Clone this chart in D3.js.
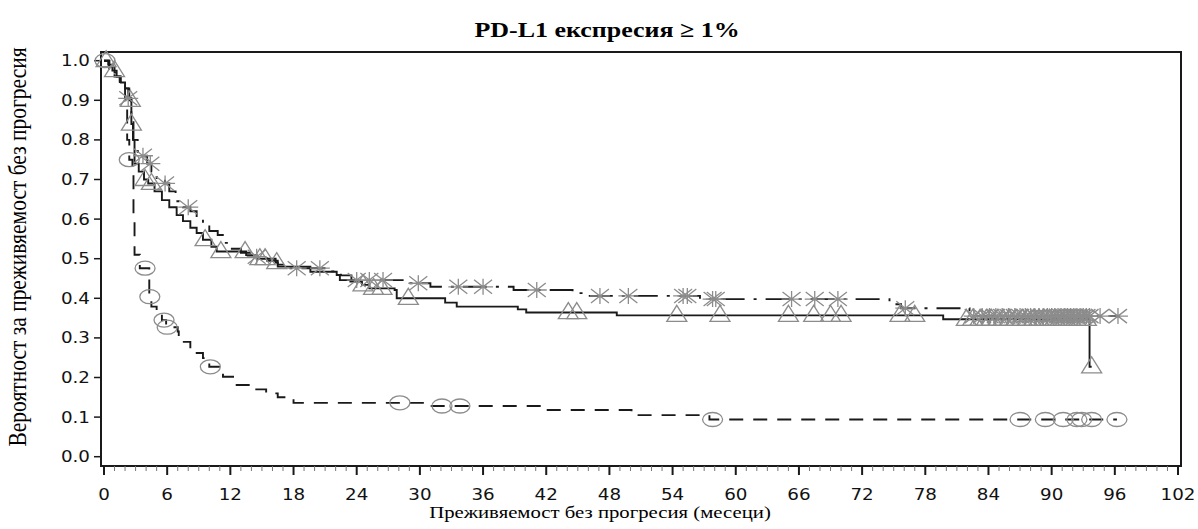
<!DOCTYPE html>
<meta charset="utf-8">
<head>
<script src="https://d3js.org/d3.v7.min.js"></script>
<style>
  body { margin: 0; background: #fff; }
  svg { display: block; }
</style>
</head>
<body>
<svg id="chart" width="1198" height="529"></svg>
<script>

  var xTicks = d3.range(0, 103, 6);
  var yTicks = d3.range(0, 11).map(function(i) { return i / 10; });

  // Dashed arm, circle censoring marks
  var armCircTime = [0, 0.5, 1.0, 1.5, 2.0, 2.2, 2.4, 2.7, 2.8, 2.9, 3.4, 4.3, 4.5, 5.0, 5.5, 5.9, 7.0, 7.1, 8.2, 9.4, 10.0, 11.3, 12.6, 14.0, 15.4, 16.5, 18.0, 30.5, 41.7, 50.1, 57.5];
  var armCircSurv = [1.0, 0.98, 0.96, 0.94, 0.90, 0.80, 0.75, 0.72, 0.60, 0.51, 0.476, 0.404, 0.379, 0.37, 0.345, 0.327, 0.316, 0.29, 0.262, 0.249, 0.227, 0.202, 0.181, 0.17, 0.16, 0.15, 0.136, 0.128, 0.118, 0.105, 0.094];
  var armCircCens = [0.1, 2.4, 3.9, 4.35, 5.7, 6.0, 10.1, 28.1, 32.1, 33.8, 57.8, 87.0, 89.4, 91.1, 92.4, 92.85, 93.8, 96.2];
  var armCircEnd = 96.2;

  // Solid arm, triangle censoring marks
  var armTriTime = [0, 0.4, 0.8, 1.2, 1.6, 2.0, 2.4, 2.6, 2.75, 2.9, 3.3, 3.8, 4.2, 4.8, 5.5, 6.2, 6.9, 7.5, 8.2, 8.8, 9.4, 10.2, 10.7, 13.5, 14.5, 16.3, 16.5, 19.6, 22.1, 22.4, 23.4, 24.5, 25.2, 27.6, 27.8, 32.4, 33.5, 39.3, 40.1, 48.7, 79.7, 93.6];
  var armTriSurv = [1.0, 0.99, 0.975, 0.96, 0.945, 0.93, 0.90, 0.84, 0.80, 0.74, 0.72, 0.70, 0.69, 0.67, 0.648, 0.63, 0.61, 0.595, 0.578, 0.565, 0.548, 0.53, 0.518, 0.509, 0.50, 0.49, 0.48, 0.467, 0.459, 0.446, 0.442, 0.434, 0.425, 0.421, 0.40, 0.389, 0.379, 0.372, 0.364, 0.357, 0.347, 0.227];
  var armTriCens = [0.2, 1.0, 2.5, 2.6, 3.9, 4.5, 9.6, 11.1, 13.4, 14.8, 15.3, 16.4, 24.6, 25.6, 26.4, 28.9, 44.1, 44.9, 54.4, 58.5, 65.0, 67.4, 69.0, 70.0, 75.6, 77.0,
                    81.9, 82.5, 83.2, 83.8, 84.3, 84.9, 85.4, 86.0, 86.6, 87.2, 87.7, 88.3, 88.8, 89.3, 89.8, 90.3, 90.8, 91.3, 91.8, 92.3, 92.8, 93.3, 93.8];
  var armTriEnd = 93.8;

  // Dash-dot arm, star censoring marks
  var armStarTime = [0, 0.5, 1.0, 1.5, 2.0, 2.3, 2.6, 2.8, 3.2, 3.6, 4.1, 4.5, 5.0, 5.8, 6.2, 6.8, 7.5, 8.2, 8.8, 9.4, 10.0, 10.8, 11.4, 12.0, 13.0, 14.0, 15.5, 16.5, 17.5, 21.5, 22.5, 23.5, 28.5, 31.0, 38.9, 44.5, 46.0, 56.6, 74.6, 75.7, 82.2];
  var armStarSurv = [1.0, 0.985, 0.97, 0.95, 0.93, 0.905, 0.86, 0.80, 0.77, 0.76, 0.74, 0.72, 0.70, 0.69, 0.67, 0.645, 0.63, 0.62, 0.60, 0.585, 0.57, 0.56, 0.54, 0.525, 0.515, 0.505, 0.495, 0.485, 0.476, 0.468, 0.458, 0.446, 0.438, 0.429, 0.421, 0.413, 0.406, 0.398, 0.385, 0.375, 0.355];
  var armStarCens = [2.3, 3.7, 4.4, 5.8, 8.0, 14.5, 18.3, 20.5, 24.0, 25.2, 26.5, 29.85, 33.65, 36.0, 41.1, 47.1, 49.8, 55.0, 55.4, 57.8, 58.1, 65.3, 67.5, 69.7, 76.1,
                     82.6, 83.4, 84.1, 84.7, 85.3, 85.9, 86.5, 87.0, 87.5, 88.0, 88.4, 88.8, 89.2, 89.6, 90.0, 90.3, 90.6, 90.9, 91.2, 91.5, 91.8, 92.1, 92.4, 92.7, 93.0, 93.3, 93.6, 94.6, 96.3];
  var armStarEnd = 96.3;

  var svg = d3.select('#chart');

  var x = d3.scaleLinear().domain([0, 102]).range([104, 1178]);
  var y = d3.scaleLinear().domain([0, 1]).range([456.7, 60.7]);

  var frame = { left: 101, top: 52, right: 1181, bottom: 466 };
  var ink = '#1a1a1a', markGrey = '#8c8c8c';

  // text in this figure is drawn a bit wider than tall
  var stretch = 1.22;

  // Plot frame
  svg.append('rect')
      .attr('x', frame.left).attr('y', frame.top)
      .attr('width', frame.right - frame.left)
      .attr('height', frame.bottom - frame.top)
      .attr('fill', 'none').attr('stroke', ink).attr('stroke-width', 2);

  // Y axis ticks and labels
  var yAxis = svg.append('g');
  yAxis.selectAll('line').data(yTicks).enter().append('line')
      .attr('x1', 94).attr('x2', frame.left)
      .attr('y1', function(d) { return y(d); }).attr('y2', function(d) { return y(d); })
      .attr('stroke', ink).attr('stroke-width', 1.5);
  yAxis.selectAll('text').data(yTicks).enter().append('text')
      .attr('transform', function(d) { return 'translate(90,' + (y(d) + 5.5) + ') scale(' + stretch + ',1)'; })
      .attr('text-anchor', 'end')
      .style('font', '15px "DejaVu Sans", sans-serif')
      .style('fill', '#111')
      .text(function(d) { return d3.format('.1f')(d); });

  // X axis: monthly minor ticks, labelled every 6 months
  var xAxis = svg.append('g');
  xAxis.selectAll('line.minor').data(d3.range(0, 103)).enter().append('line')
      .attr('class', 'minor')
      .attr('x1', function(d) { return x(d); }).attr('x2', function(d) { return x(d); })
      .attr('y1', frame.bottom).attr('y2', function(d) { return d % 6 === 0 ? frame.bottom + 9 : frame.bottom + 5; })
      .attr('stroke', function(d) { return d % 6 === 0 ? ink : '#777'; })
      .attr('stroke-width', function(d) { return d % 6 === 0 ? 2 : 1; });
  xAxis.selectAll('text').data(xTicks).enter().append('text')
      .attr('transform', function(d) { return 'translate(' + x(d) + ',499.5) scale(' + stretch + ',1)'; })
      .attr('text-anchor', 'middle')
      .style('font', '15px "DejaVu Sans", sans-serif')
      .style('fill', '#111')
      .text(function(d) { return d; });

  // Titles
  svg.append('text')
      .attr('transform', 'translate(607,37) scale(1.18,1)')
      .attr('text-anchor', 'middle')
      .style('font', 'bold 22px "Liberation Serif", serif')
      .text('PD-L1 експресия ≥ 1%');

  svg.append('text')
      .attr('transform', 'translate(600,518) scale(' + stretch + ',1)')
      .attr('text-anchor', 'middle')
      .style('font', '17px "Liberation Serif", serif')
      .text('Преживяемост без прогресия (месеци)');

  svg.append('text')
      .attr('transform', 'translate(26,247) scale(' + stretch + ',1) rotate(-90)')
      .attr('text-anchor', 'middle')
      .style('font', '21.5px "Liberation Serif", serif')
      .text('Вероятност за преживяемост без прогресия');

  // Kaplan-Meier step curves
  function stepPoints(times, surv, end) {
    var pts = times.map(function(t, i) { return [t, surv[i]]; });
    pts.push([end, surv[surv.length - 1]]);
    return pts;
  }

  function survAt(times, surv, t) {
    var i = d3.bisectRight(times, t) - 1;
    return surv[Math.max(0, i)];
  }

  var stepLine = d3.line()
      .x(function(d) { return x(d[0]); })
      .y(function(d) { return y(d[1]); })
      .curve(d3.curveStepAfter);

  var arms = [
    { time: armCircTime, surv: armCircSurv, cens: armCircCens, end: armCircEnd, dash: '14,10', mark: 'circle' },
    { time: armTriTime, surv: armTriSurv, cens: armTriCens, end: armTriEnd, dash: null, mark: 'triangle' },
    { time: armStarTime, surv: armStarSurv, cens: armStarCens, end: armStarEnd, dash: '24,9,3,9', mark: 'star' }
  ];

  var plot = svg.append('g');

  arms.forEach(function(arm) {
    plot.append('path')
        .datum(stepPoints(arm.time, arm.surv, arm.end))
        .attr('d', stepLine)
        .attr('fill', 'none')
        .attr('stroke', ink)
        .attr('stroke-width', 1.9)
        .attr('stroke-dasharray', arm.dash);
  });

  // marker shapes, 20px wide by about 14px tall
  function markPath(kind) {
    if (kind === 'circle') {
      return 'M-10,0A10,7 0 1,0 10,0A10,7 0 1,0 -10,0Z';
    }
    if (kind === 'triangle') {
      return 'M0,-10L10,6L-10,6Z';
    }
    return 'M0,-8L0,8M-10,0L10,0M-9,-7L9,7M-9,7L9,-7';
  }

  arms.forEach(function(arm) {
    plot.append('g').selectAll('path')
        .data(arm.cens)
        .enter().append('path')
        .attr('transform', function(t) {
          return 'translate(' + x(t) + ',' + y(survAt(arm.time, arm.surv, t)) + ')';
        })
        .attr('d', markPath(arm.mark))
        .attr('fill', 'none')
        .attr('stroke', markGrey)
        .attr('stroke-width', 1.3);
  });

</script>
</body>
</html>
